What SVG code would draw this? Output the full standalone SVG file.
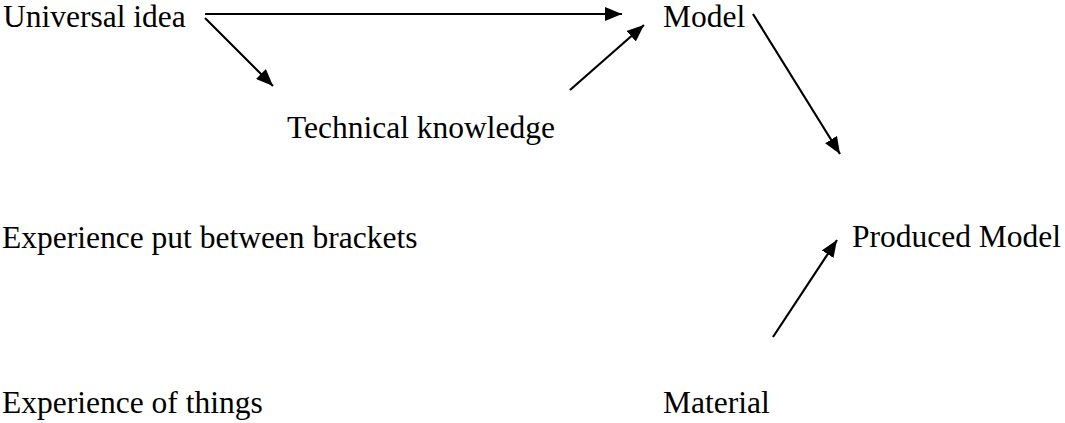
<svg xmlns="http://www.w3.org/2000/svg" width="1065" height="423" viewBox="0 0 1065 423">
<style>
.t{font-family:'Liberation Serif','DejaVu Serif','Times New Roman',Times,serif;font-size:31.5px;fill:#000}
.c{stroke:#000;stroke-width:2.2;fill:none;marker-end:url(#ah)}
</style>
<defs>
<marker id="ah" markerUnits="userSpaceOnUse" viewBox="0 0 17 14" refX="17" refY="7" markerWidth="17" markerHeight="14" orient="auto">
<path d="M0,0 L17,7 L0,14 z" fill="#000"/>
</marker>
</defs>
<rect width="1065" height="423" fill="#fff"/>
<g id="universal"><text class="t" font-family="Liberation Serif" x="3" y="27">Universal idea</text></g>
<g id="model"><text class="t" font-family="Liberation Serif" x="663" y="27">Model</text></g>
<g id="technical"><text class="t" font-family="Liberation Serif" x="287" y="138">Technical knowledge</text></g>
<g id="bracketed"><text class="t" font-family="Liberation Serif" x="2" y="248">Experience put between brackets</text></g>
<g id="produced"><text class="t" font-family="Liberation Serif" x="852" y="247">Produced Model</text></g>
<g id="things"><text class="t" font-family="Liberation Serif" x="2" y="413">Experience of things</text></g>
<g id="material"><text class="t" font-family="Liberation Serif" x="663" y="413">Material</text></g>
<g id="connectors">
<line class="c" x1="205" y1="14" x2="622" y2="14"/>
<line class="c" x1="205" y1="18" x2="273" y2="86"/>
<line class="c" x1="570" y1="90" x2="644" y2="25"/>
<line class="c" x1="753" y1="14" x2="840" y2="154"/>
<line class="c" x1="773" y1="337" x2="837" y2="240"/>
</g>
</svg>
